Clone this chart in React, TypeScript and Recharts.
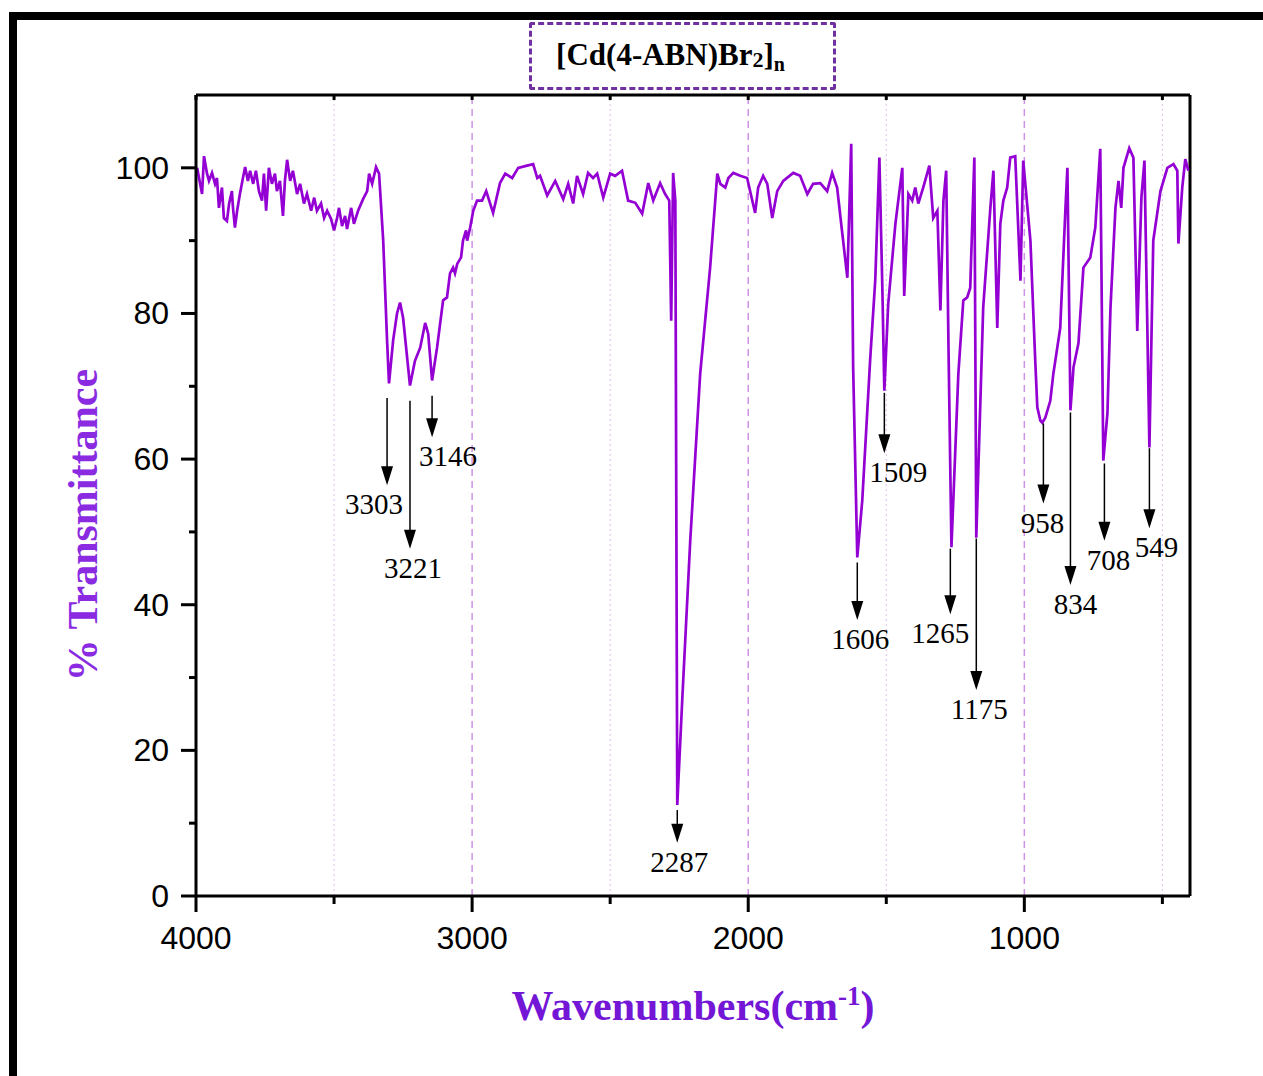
import React from 'react';
import { LineChart, Line, XAxis, YAxis, ReferenceLine, ReferenceDot } from 'recharts';

// IR spectrum (cm-1, % transmittance)
const wavenumbers = [
  3996, 3978, 3971, 3960, 3953, 3942, 3931, 3924, 3917, 3906, 3899, 3888, 3880, 3870, 3866, 3859,
  3851, 3841, 3830, 3822, 3812, 3804, 3793, 3783, 3772, 3761, 3754, 3746, 3736, 3725, 3714, 3707,
  3696, 3685, 3678, 3670, 3659, 3649, 3634, 3623, 3609, 3598, 3583, 3572, 3562, 3547, 3536, 3525,
  3511, 3500, 3489, 3482, 3471, 3460, 3453, 3438, 3428, 3413, 3395, 3380, 3373, 3362, 3348, 3337,
  3322, 3308, 3301, 3286, 3272, 3261, 3250, 3225, 3207, 3188, 3170, 3159, 3145, 3127,
  3105, 3091, 3080, 3069, 3062, 3054, 3040, 3033, 3022, 3018, 3007, 2996, 2982,
  2964, 2949, 2924, 2899, 2880, 2855, 2833, 2801, 2779, 2764, 2754, 2728, 2699, 2670, 2652, 2634,
  2620, 2598, 2580, 2562, 2547, 2525, 2500, 2482, 2457, 2435, 2409, 2384, 2362, 2344, 2319, 2301, 2286,
  2279, 2272, 2264, 2257, 2239, 2210, 2174, 2138, 2112, 2101, 2083, 2072, 2054, 2029, 2004,
  1975, 1964, 1946, 1931, 1913, 1895, 1873, 1837, 1812, 1786, 1765, 1739, 1714, 1696, 1678, 1659, 1641,
  1627, 1620, 1605, 1587, 1558, 1540, 1525, 1514, 1507, 1493, 1467, 1442, 1435, 1420, 1406, 1395,
  1384, 1366, 1344, 1330, 1315, 1304, 1293, 1283, 1275, 1264, 1239, 1221, 1207, 1196, 1181, 1174,
  1149, 1123, 1112, 1098, 1087, 1076, 1062, 1051, 1033, 1014, 1004,
  978, 960, 953, 942, 935, 924, 906, 895, 870, 851, 844, 833, 822, 804, 786, 761,
  743, 725, 714, 699, 688, 670, 659, 649, 641, 620, 605, 591, 576, 565,
  547, 533, 507, 482, 460, 446, 442, 428, 417, 406,
];
const transmittance = [
  100.0, 96.4, 101.6, 99.2, 98.2, 99.3, 97.8, 98.6, 94.5, 97.3, 93.1, 92.7, 95.1, 96.8, 94.5, 91.8,
  94.1, 96.4, 98.6, 100.1, 98.2, 99.6, 97.8, 99.6, 96.8, 95.5, 99.2, 94.1, 100.0, 97.8, 99.2, 96.8,
  98.2, 93.4, 98.2, 101.1, 98.2, 99.6, 96.4, 97.8, 95.1, 96.4, 94.1, 95.9, 94.1, 95.1, 93.1, 94.1,
  93.0, 91.4, 93.1, 94.5, 92.0, 93.4, 91.6, 94.5, 92.3, 94.1, 95.7, 96.8, 99.2, 97.8, 100.1, 99.2,
  90.0, 76.3, 70.4, 76.3, 80.0, 81.5, 79.4, 70.1, 73.5, 75.3, 78.7, 77.2, 70.8, 75.3,
  81.8, 82.2, 85.5, 86.3, 85.5, 86.8, 87.7, 90.0, 91.4, 90.0, 91.8, 94.1, 95.5,
  95.5, 96.8, 93.8, 97.9, 99.2, 98.6, 100.0, 100.3, 100.5, 98.6, 98.9, 96.2, 98.2, 95.7, 97.8, 95.1,
  98.9, 96.4, 99.3, 98.6, 99.2, 95.9, 99.2, 98.9, 99.6, 95.5, 95.2, 93.7, 97.9, 95.5, 97.9, 96.4, 95.5,
  79.0, 99.3, 95.5, 12.5, 26.9, 48.8, 71.7, 86.3, 99.2, 97.8, 97.3, 98.6, 99.3, 98.9, 98.6,
  93.8, 97.3, 98.9, 97.8, 93.1, 96.8, 98.2, 99.3, 98.9, 96.4, 97.8, 97.9, 96.8, 99.3, 97.3, 90.9, 84.9,
  103.3, 72.6, 46.5, 54.3, 73.9, 84.5, 101.4, 83.1, 69.4, 81.3, 92.3, 100.0, 82.4, 96.4, 95.5, 97.3,
  95.1, 97.3, 100.3, 93.1, 94.1, 80.4, 95.5, 99.6, 76.3, 47.9, 71.7, 81.8, 82.2, 83.5, 101.4, 49.2,
  80.8, 94.5, 99.6, 78.0, 92.3, 95.5, 97.3, 101.4, 101.6, 84.5, 101.0,
  90.0, 73.1, 67.1, 65.3, 65.0, 65.7, 68.0, 71.7, 78.0, 94.5, 100.0, 66.7, 72.6, 75.9, 86.3, 87.7,
  91.8, 102.6, 59.8, 66.3, 80.8, 94.5, 98.2, 94.5, 100.0, 102.7, 101.4, 77.6, 95.9, 101.0,
  61.6, 90.0, 96.8, 100.0, 100.5, 99.6, 89.6, 97.3, 101.2, 99.6,
];

const xMajorTicks = [4000, 3000, 2000, 1000];
const xMinorTicks = [3500, 2500, 1500, 500];
const yTicks = [0, 10, 20, 30, 40, 50, 60, 70, 80, 90, 100];

// peak annotations
const peakLabels = ['3303', '3221', '3146', '2287', '1606', '1509', '1265', '1175', '958', '834', '708', '549'];
const peakPositions = [3308, 3225, 3145, 2257, 1605, 1507, 1268, 1174, 931, 833, 710, 547];
const arrowTops = [68.4, 68.0, 68.7, 11.8, 45.8, 69.1, 47.7, 49.1, 64.9, 66.4, 59.4, 61.5];
const arrowTips = [56.4, 47.7, 63.0, 7.3, 37.9, 60.8, 38.7, 28.3, 53.9, 42.7, 48.8, 50.5];
const labelShift = [-13, 3, 16, 2, 3, 14, -10, 3, -1, 5, 4, 7];

const data = wavenumbers.map((wn, i) => ({ wn, t: transmittance[i] }));

const LINE = '#9400d3';
const AXIS_TEXT = 'Liberation Sans, Arial, sans-serif';
const SERIF = 'Liberation Serif, Times New Roman, serif';

const BottomTick = (props: any) => {
  const { x, y, payload } = props;
  const major = payload.value % 1000 === 0;
  return (
    <g>
      <line x1={x} y1={y} x2={x} y2={y + (major ? 16 : 8)} stroke="#000" strokeWidth={3} />
      {major && (
        <text x={x} y={y + 42} textAnchor="middle" dominantBaseline="central" fontFamily={AXIS_TEXT} fontSize={32} fill="#000">
          {payload.value}
        </text>
      )}
    </g>
  );
};

const TopTick = (props: any) => {
  const { x, y } = props;
  return <line x1={x} y1={y} x2={x} y2={y + 5} stroke="#000" strokeWidth={3} />;
};

const LeftTick = (props: any) => {
  const { x, y, payload } = props;
  const major = payload.value % 20 === 0;
  return (
    <g>
      <line x1={x - (major ? 15 : 7)} y1={y} x2={x} y2={y} stroke="#000" strokeWidth={3} />
      {major && (
        <text x={x - 27} y={y} textAnchor="end" dominantBaseline="central" fontFamily={AXIS_TEXT} fontSize={32} fill="#000">
          {payload.value}
        </text>
      )}
    </g>
  );
};

const RightTick = (props: any) => {
  const { x, y, payload } = props;
  const major = payload.value % 20 === 0;
  return <line x1={x - (major ? 7 : 5)} y1={y} x2={x} y2={y} stroke="#000" strokeWidth={3} />;
};

const App = () => {
  return (
    <div style={{ position: 'absolute', left: 0, top: 0, width: 1263, height: 1076, overflow: 'hidden', background: '#fff' }}>
      <div
        style={{
          position: 'absolute', left: 9, top: 12, width: 1254, height: 1064, boxSizing: 'border-box',
          borderTop: '8px solid #000', borderLeft: '8px solid #000',
        }}
      />
      <div
        style={{
          position: 'absolute', left: 529, top: 22, width: 307, height: 68, boxSizing: 'border-box',
          border: '3px dashed #7030a0', borderRadius: 3, display: 'flex', alignItems: 'center', justifyContent: 'center',
          paddingRight: 24, fontFamily: SERIF, fontWeight: 'bold', fontSize: 31, color: '#000',
        }}
      >
        <span>
          [Cd(4-ABN)Br<span style={{ fontSize: 22, verticalAlign: '-0.1em' }}>2</span>]
          <span style={{ fontSize: 20, verticalAlign: '-0.3em' }}>n</span>
        </span>
      </div>

      <div style={{ position: 'absolute', left: 0, top: 0 }}>
        <LineChart width={1263} height={1076} data={data} margin={{ top: 94, right: 72, bottom: 120, left: 96 }}>
          <XAxis
            dataKey="wn"
            type="number"
            domain={[400, 4000]}
            reversed
            ticks={[...xMajorTicks, ...xMinorTicks].sort((a, b) => b - a)}
            interval={0}
            tickSize={0}
            tickMargin={0}
            tickLine={false}
            tick={<BottomTick />}
            height={60}
            axisLine={{ stroke: '#000', strokeWidth: 3 }}
          />
          <XAxis
            xAxisId="top"
            orientation="top"
            dataKey="wn"
            type="number"
            domain={[400, 4000]}
            reversed
            ticks={[...xMajorTicks, ...xMinorTicks]}
            interval={0}
            tickSize={0}
            tickMargin={0}
            tickLine={false}
            tick={<TopTick />}
            height={1}
            axisLine={false}
          />
          <YAxis
            type="number"
            domain={[0, 110]}
            ticks={yTicks}
            interval={0}
            tickSize={0}
            tickMargin={0}
            tickLine={false}
            tick={<LeftTick />}
            width={100}
            axisLine={{ stroke: '#000', strokeWidth: 3 }}
          />
          <YAxis
            yAxisId="right"
            orientation="right"
            type="number"
            domain={[0, 110]}
            ticks={yTicks}
            interval={0}
            tickSize={0}
            tickMargin={0}
            tickLine={false}
            tick={<RightTick />}
            width={1}
            axisLine={false}
          />
          {xMinorTicks.map((v) => (
            <ReferenceLine key={'mn' + v} x={v} stroke="#e2bdea" strokeWidth={1} strokeDasharray="2 3" />
          ))}
          {xMajorTicks.slice(1).map((v) => (
            <ReferenceLine key={'mj' + v} x={v} stroke="#cf93e6" strokeWidth={1.5} strokeDasharray="7 5" />
          ))}
          <ReferenceLine y={110} stroke="#000" strokeWidth={3} />
          <ReferenceLine x={400} stroke="#000" strokeWidth={3} />
          <Line
            type="linear"
            dataKey="t"
            stroke={LINE}
            strokeWidth={2.7}
            dot={false}
            isAnimationActive={false}
          />
          {peakPositions.map((wn, i) => (
            <ReferenceLine
              key={'arr' + i}
              segment={[{ x: wn, y: arrowTops[i] }, { x: wn, y: arrowTips[i] + 2 }]}
              stroke="#000"
              strokeWidth={1.5}
            />
          ))}
          {peakPositions.map((wn, i) => (
            <ReferenceDot
              key={'lab' + i}
              x={wn}
              y={arrowTips[i]}
              r={0}
              shape={(p: any) => (
                <g>
                  <polygon points={`${p.cx - 6},${p.cy - 19} ${p.cx + 6},${p.cy - 19} ${p.cx},${p.cy}`} fill="#000" />
                  <text
                    x={p.cx + labelShift[i]}
                    y={p.cy + 19}
                    textAnchor="middle"
                    dominantBaseline="central"
                    fontFamily={SERIF}
                    fontSize={29}
                    fill="#000"
                  >
                    {peakLabels[i]}
                  </text>
                </g>
              )}
            />
          ))}
        </LineChart>
      </div>

      <div
        style={{
          position: 'absolute', left: 83, top: 525, transform: 'translate(-50%, -50%) rotate(-90deg)',
          whiteSpace: 'nowrap', fontFamily: SERIF, fontWeight: 'bold', fontSize: 42, color: '#8a2be2',
        }}
      >
        % Transmittance
      </div>
      <div
        style={{
          position: 'absolute', left: 693, top: 1005, transform: 'translate(-50%, -50%)',
          whiteSpace: 'nowrap', fontFamily: SERIF, fontWeight: 'bold', fontSize: 42, color: '#7316d6',
        }}
      >
        Wavenumbers(cm<sup style={{ fontSize: 27 }}>-1</sup>)
      </div>
    </div>
  );
};

export default App;
